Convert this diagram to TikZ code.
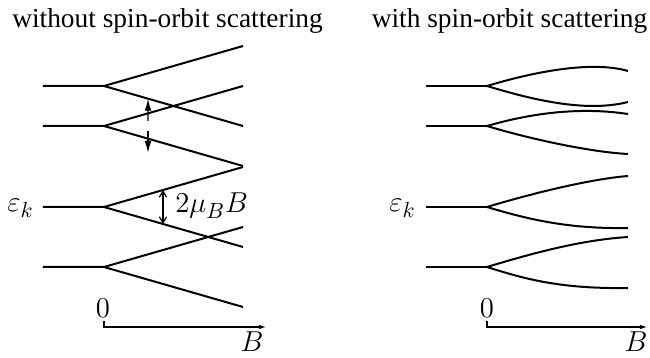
\documentclass[tikz,border=0pt]{standalone}
\usepackage[no-math]{fontspec}
\setmainfont{Liberation Serif}
\usetikzlibrary{arrows.meta,calc}

\begin{document}
\begin{tikzpicture}[x=.5pt,y=-.5pt,
  level/.style={line width=1pt},
  axis/.style={line width=.8pt,-{Latex[length=4pt,width=2.2pt]}},
  split/.style={line width=.6pt,{Straight Barb[length=3pt,width=3.6pt]}-{Straight Barb[length=3pt,width=3.6pt]}},
  shove/.style={line width=.7pt,-{Latex[length=6pt,width=3.4pt]}},
  title/.style={anchor=base,inner sep=0pt,font=\fontsize{13.7}{16}\selectfont},
  lab/.style={anchor=base,inner sep=0pt,font=\fontsize{15.5}{18}\selectfont}]
\useasboundingbox (0,0) rectangle (650,358);

% titles
\node[title] (tleft) at (167.5,28) {without spin-orbit scattering};
\node[title] (tright) at (509.5,28) {with spin-orbit scattering};

% left: straight Zeeman fans
\foreach \n/\y in {1/86,2/126,3/207,4/267}{
  \coordinate (la\n) at (43,\y);
  \coordinate (ls\n) at (104,\y);
  \coordinate (lu\n) at (243,\y-40);
  \coordinate (ld\n) at (243,\y+40);
  \draw[level] (la\n) -- (ls\n) -- (lu\n);
  \draw[level] (ls\n) -- (ld\n);
}

% splitting arrows
\coordinate (gtop) at ($(ls3)!0.424!(lu3)$);
\coordinate (gbot) at ($(ls3)!0.424!(ld3)$);
\draw[split] (gtop) -- (gbot);
\node[lab,anchor=base west] (gap) at (175,213) {$2\mu_B B$};
\coordinate (mid2) at ($(ls2)+(44,0)$);
\coordinate (ptip) at ($(ls1)!0.317!(ld1)$);
\coordinate (pup) at ($(mid2)+(0,-5)$);
\coordinate (pdn) at ($(mid2)+(0,5)$);
\coordinate (qtip) at ($(mid2)+(0,27)$);
\draw[shove] (pup) -- (ptip);
\draw[shove] (pdn) -- (qtip);

\node[lab,anchor=base east] (epsl) at (34,212) {$\varepsilon_k$};

% left axis
\coordinate (lt) at (104,321);
\coordinate (lo) at (104,327);
\coordinate (lx) at (267,327);
\draw[axis] (lt) -- (lo) -- (lx);
\node[lab] (zl) at (103,318) {$0$};
\node[lab,anchor=base east] (bl) at (264,352) {$B$};

% right: levels bend away from each other
\foreach \n/\y in {1/86,2/126,3/207,4/267}{
  \coordinate (ra\n) at (426,\y);
  \coordinate (rs\n) at (487,\y);
  \draw[level] (ra\n) -- (rs\n);
}
\draw[level] (rs1) .. controls (530,73) and (590,60) .. (628,71);
\draw[level] (rs1) .. controls (530,99) and (585,113) .. (628,102);
\draw[level] (rs2) .. controls (525,115) and (575,106) .. (628,114);
\draw[level] (rs2) .. controls (530,139) and (590,152) .. (628,154);
\draw[level] (rs3) .. controls (530,194) and (590,179) .. (628,176);
\draw[level] (rs3) .. controls (530,220) and (570,229) .. (628,228);
\draw[level] (rs4) .. controls (530,254) and (580,240) .. (628,237);
\draw[level] (rs4) .. controls (525,279) and (560,289) .. (628,288);

\node[lab,anchor=base east] (epsr) at (416,212) {$\varepsilon_k$};

% right axis
\coordinate (rt) at (487,321);
\coordinate (ro) at (487,327);
\coordinate (rx) at (648,327);
\draw[axis] (rt) -- (ro) -- (rx);
\node[lab] (zr) at (487,318) {$0$};
\node[lab,anchor=base east] (br) at (648,352) {$B$};
\end{tikzpicture}
\end{document}
